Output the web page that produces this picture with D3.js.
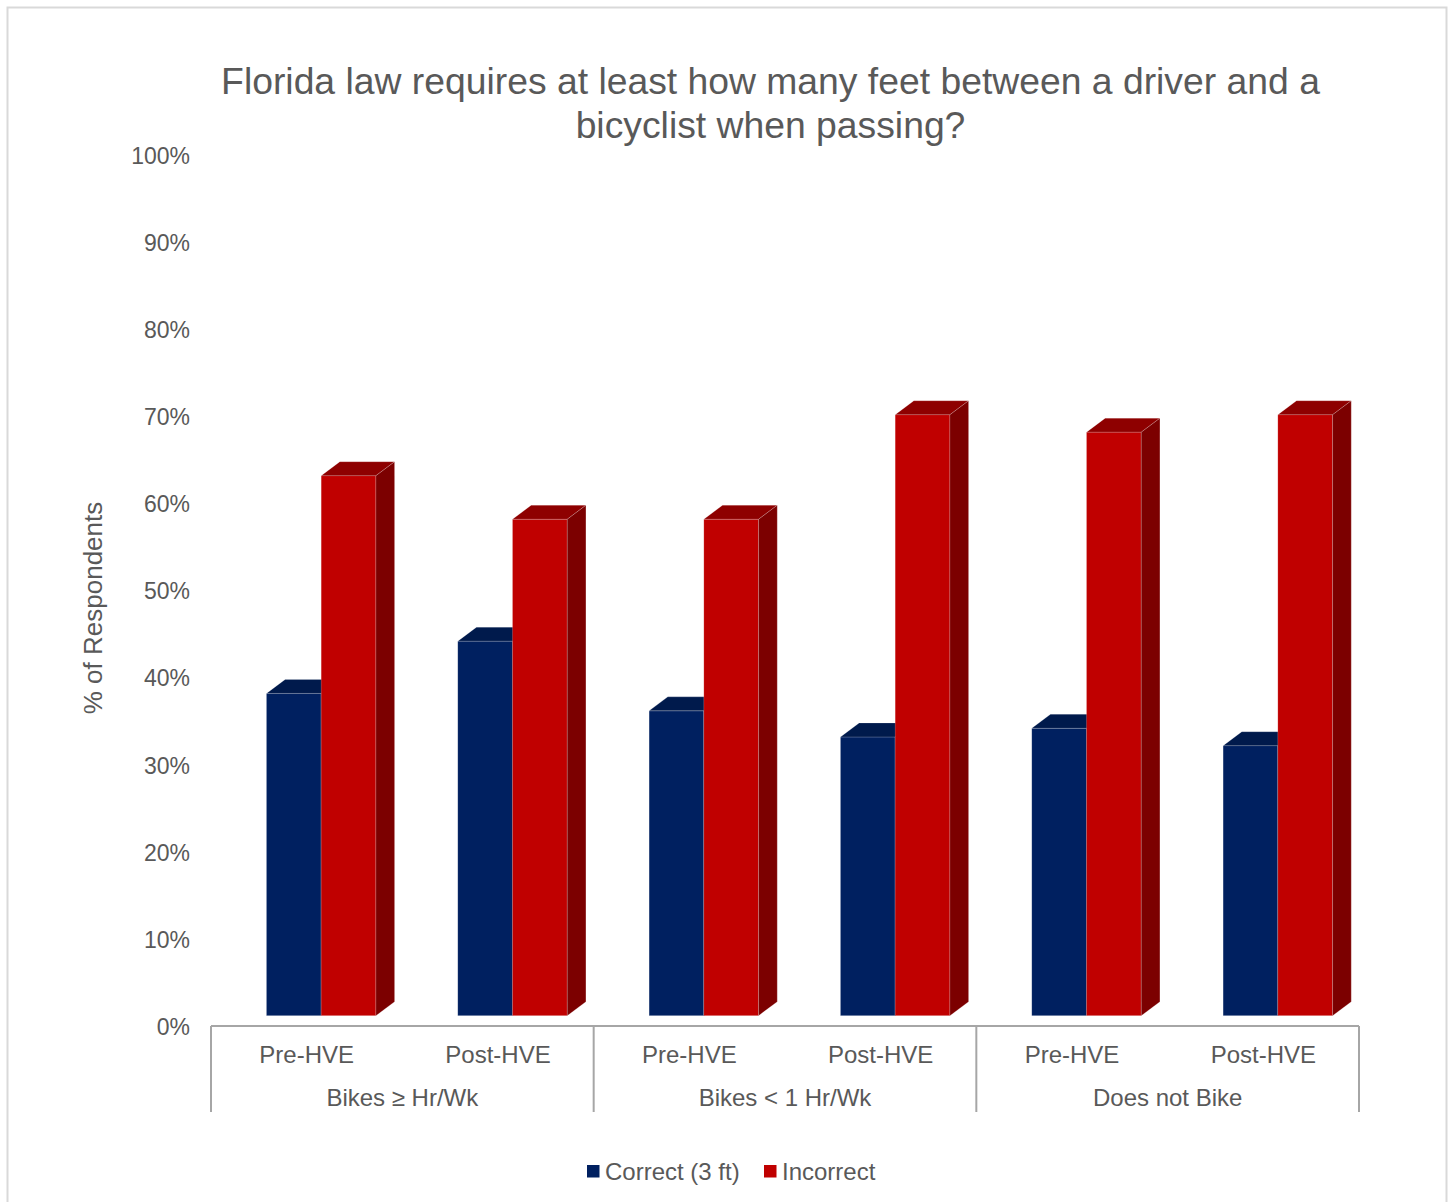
<!DOCTYPE html>
<html>
<head>
<meta charset="utf-8">
<script src="https://cdn.jsdelivr.net/npm/d3@7"></script>
<style>
    body { margin: 0; background: #ffffff; }
    svg { display: block; }
</style>
</head>
<body>
<div id="chart"></div>
<script>
const groups = ['Bikes \u2265 Hr/Wk', 'Bikes < 1 Hr/Wk', 'Does not Bike'];
const periods = ['Pre-HVE', 'Post-HVE'];
const seriesNames = ['Correct (3 ft)', 'Incorrect'];
const correctValues = [0.37, 0.43, 0.35, 0.32, 0.33, 0.31];
const incorrectValues = [0.62, 0.57, 0.57, 0.69, 0.67, 0.69];
const yTicks = [0, 0.1, 0.2, 0.3, 0.4, 0.5, 0.6, 0.7, 0.8, 0.9, 1.0];
const titleLines = ['Florida law requires at least how many feet between a driver and a', 'bicyclist when passing?'];

const svgWidth = 1453;
const svgHeight = 1202;
const textColor = '#595959';
const fontFamily = '"Liberation Sans", Arial, sans-serif';

const colors = {
    correct: {front: '#002060', top: '#001a4c', side: '#001440'},
    incorrect: {front: '#c00000', top: '#8e0000', side: '#7c0000'}
};

// 3d offsets
const depthX = 18.7;
const depthY = 14;
const floorLift = 10.3;

function main() {
    const svg = d3.select('#chart').append('svg')
        .attr('width', svgWidth)
        .attr('height', svgHeight);

    // chart border
    svg.append('rect')
        .attr('x', 7.5)
        .attr('y', 7.5)
        .attr('width', 1439)
        .attr('height', 1210)
        .attr('fill', '#ffffff')
        .attr('stroke', '#d9d9d9')
        .attr('stroke-width', 2);

    svg.append('text')
        .attr('x', 770.5)
        .attr('y', 94)
        .attr('text-anchor', 'middle')
        .attr('fill', textColor)
        .style('font-family', fontFamily)
        .style('font-size', '37.3px')
        .selectAll('tspan')
        .data(titleLines)
        .enter()
        .append('tspan')
        .attr('x', 770.5)
        .attr('dy', (d, i) => i === 0 ? 0 : 44)
        .text(d => d);

    const slots = [];
    groups.forEach(g => periods.forEach(p => slots.push(g + '|' + p)));

    const xSlot = d3.scaleBand()
        .domain(slots)
        .range([211, 1359]);

    const xGroup = d3.scaleBand()
        .domain(groups)
        .range([211, 1359]);

    const yScale = d3.scaleLinear()
        .domain([0, 1])
        .range([1026, 155]);

    // value axis labels (no line)
    const yAxis = svg.append('g')
        .attr('transform', 'translate(198,1)')
        .call(d3.axisLeft(yScale).tickValues(yTicks).tickFormat(d3.format('.0%')).tickSize(0).tickPadding(8));
    yAxis.select('.domain').remove();
    yAxis.selectAll('text')
        .attr('fill', textColor)
        .style('font-family', fontFamily)
        .style('font-size', '23px');

    svg.append('text')
        .attr('transform', 'translate(102,608) rotate(-90)')
        .attr('text-anchor', 'middle')
        .attr('fill', textColor)
        .style('font-family', fontFamily)
        .style('font-size', '26px')
        .text('% of Respondents');

    // bars
    const barW = xSlot.bandwidth() * 0.286;
    const barData = [];
    slots.forEach((s, i) => {
        const center = xSlot(s) + xSlot.bandwidth() / 2 + 14.5;
        barData.push({slot: s, key: 'correct', value: correctValues[i], x: center - barW});
        barData.push({slot: s, key: 'incorrect', value: incorrectValues[i], x: center});
    });

    const bars = svg.append('g').attr('class', 'bars')
        .selectAll('g')
        .data(barData)
        .enter()
        .append('g');

    const yBottom = yScale(0) - floorLift;

    bars.append('rect')
        .attr('x', d => d.x)
        .attr('y', d => yScale(d.value) - floorLift)
        .attr('width', barW)
        .attr('height', d => yBottom - (yScale(d.value) - floorLift))
        .attr('fill', d => colors[d.key].front)
        .attr('stroke', 'rgba(255,255,255,0.3)')
        .attr('stroke-width', 0.6);

    bars.append('path')
        .attr('d', d => {
            const yt = yScale(d.value) - floorLift;
            return `M${d.x},${yt}L${d.x + depthX},${yt - depthY}L${d.x + barW + depthX},${yt - depthY}L${d.x + barW},${yt}Z`;
        })
        .attr('fill', d => colors[d.key].top)
        .attr('stroke', 'rgba(255,255,255,0.3)')
        .attr('stroke-width', 0.6);

    bars.append('path')
        .attr('d', d => {
            const yt = yScale(d.value) - floorLift;
            const xr = d.x + barW;
            return `M${xr},${yt}L${xr + depthX},${yt - depthY}L${xr + depthX},${yBottom - depthY}L${xr},${yBottom}Z`;
        })
        .attr('fill', d => colors[d.key].side)
        .attr('stroke', 'rgba(255,255,255,0.3)')
        .attr('stroke-width', 0.6);

    // category axis
    const axisG = svg.append('g').attr('class', 'cat-axis');
    axisG.append('line')
        .attr('x1', 211).attr('x2', 1359)
        .attr('y1', 1026).attr('y2', 1026)
        .attr('stroke', '#a6a6a6')
        .attr('stroke-width', 2);

    const separators = groups.map(g => xGroup(g)).concat([xGroup.range()[1]]);
    axisG.selectAll('.sep')
        .data(separators)
        .enter()
        .append('line')
        .attr('class', 'sep')
        .attr('x1', d => d).attr('x2', d => d)
        .attr('y1', 1026).attr('y2', 1112)
        .attr('stroke', '#a6a6a6')
        .attr('stroke-width', 2);

    axisG.selectAll('.period-label')
        .data(slots)
        .enter()
        .append('text')
        .attr('class', 'period-label')
        .attr('x', d => xSlot(d) + xSlot.bandwidth() / 2)
        .attr('y', 1063)
        .attr('text-anchor', 'middle')
        .attr('fill', textColor)
        .style('font-family', fontFamily)
        .style('font-size', '24px')
        .text(d => d.split('|')[1]);

    axisG.selectAll('.group-label')
        .data(groups)
        .enter()
        .append('text')
        .attr('class', 'group-label')
        .attr('x', d => xGroup(d) + xGroup.bandwidth() / 2)
        .attr('y', 1106)
        .attr('text-anchor', 'middle')
        .attr('fill', textColor)
        .style('font-family', fontFamily)
        .style('font-size', '24px')
        .text(d => d);

    // legend
    const legendItems = [
        {name: seriesNames[0], color: colors.correct.front, x: 587},
        {name: seriesNames[1], color: colors.incorrect.front, x: 764}
    ];
    const legend = svg.append('g').attr('class', 'legend')
        .selectAll('g')
        .data(legendItems)
        .enter()
        .append('g')
        .attr('transform', d => `translate(${d.x},1165)`);

    legend.append('rect')
        .attr('width', 12.5)
        .attr('height', 12.5)
        .attr('fill', d => d.color);

    legend.append('text')
        .attr('x', 18)
        .attr('y', 15)
        .attr('fill', textColor)
        .style('font-family', fontFamily)
        .style('font-size', '24px')
        .text(d => d.name);
}

main();
</script>
</body>
</html>
